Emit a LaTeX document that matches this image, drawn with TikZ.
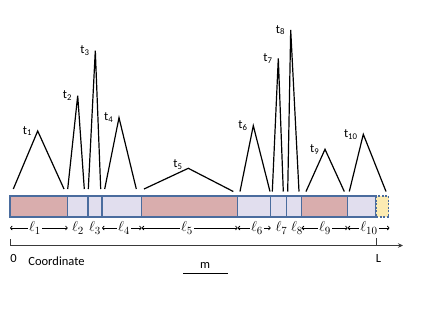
\documentclass[tikz,border=0pt]{standalone}
\usepackage{fontspec}
\setmainfont{Carlito}
\usetikzlibrary{positioning,arrows.meta}
\definecolor{cP}{HTML}{D9ADAD}
\definecolor{cL}{HTML}{E1DEEE}
\definecolor{cY}{HTML}{FCEBB2}
\definecolor{cE}{HTML}{4A6C9E}
\definecolor{cK}{HTML}{3A3A3A}
\begin{document}
\begin{tikzpicture}[x=1pt,y=-1pt,
  font=\fontsize{12.5}{15}\selectfont,
  sg/.style={draw=cE,line width=1.1pt},
  pk/.style={sg,fill=cP},
  lv/.style={sg,fill=cL},
  yl/.style={sg,fill=cY,dash pattern=on 2pt off 1.5pt},
  tri/.style={line width=1.2pt,line join=miter},
  lb/.style={inner sep=1pt},
  ln/.style={inner sep=1pt,font=\fontsize{15}{18}\selectfont},
  ar/.style={-{To[length=2.5pt,width=4.5pt]},line width=.8pt},
  ax/.style={cK,line width=1.3pt}]
\useasboundingbox (0,0) rectangle (436,327);
% the bar
\foreach \xa/\xb/\s in {10/67.7/pk,67.7/88/lv,88/102/lv,102/141.7/lv,141.7/237.7/pk,
  237.7/270.7/lv,270.7/286.3/lv,286.3/301.7/lv,301.7/347.7/pk,347.7/376/lv,376/388.7/yl}
  \draw[\s] (\xa,196) rectangle (\xb,217);
% peaks above the bar
\foreach \i/\xa/\ya/\xp/\yp/\xb/\yb/\dy in {1/13.3/189/37.7/131/64/189/0,
  2/67.7/189/77.7/95.7/84.3/189/0, 3/88.3/189/95.3/50.7/100.7/189/0,
  4/104.7/189/119/117.7/136.3/189/0, 5/144/189/188.3/168.3/233.3/191.5/4,
  6/240/191.5/253.3/125.7/270/191.5/0, 7/272.3/191.5/278.3/58.3/283.3/191.5/0,
  8/287.7/191.5/290.7/30/299/191.5/0, 9/306/191.5/325/149.3/344.3/191.5/0,
  10/349.3/191.5/363.3/134.3/386/191.5/0}{
  \coordinate (p\i) at (\xp,\yp);
  \draw[tri] (\xa,\ya) -- (p\i) -- (\xb,\yb);
  \node[lb,anchor=east] (t\i) at ([xshift=-4.5pt,yshift=\dy pt]p\i) {t\textsubscript{\i}};
}
% lengths under the bar
\foreach \n/\x in {0/10,1/67.7,2/88,3/102,4/141.7,5/237.7,6/270.7,7/286.3,8/301.7,9/347.7,10/376,11/389.5}
  \coordinate (b\n) at (\x,228);
\foreach \i/\x in {1/35,2/78,3/95,4/124,5/187,6/257,7/281.5,8/297,9/325,10/369}
  \node[ln] (l\i) at (\x,228) {$\ell_{\i}$};
\foreach \i/\a/\b in {1/0/1,4/3/4,5/4/5,6/5/6,9/8/9,10/9/11}{
  \draw[ar] (l\i) -- (b\a);
  \draw[ar] (l\i) -- (b\b);
}
% coordinate axis
\coordinate (o) at (10.5,245.5);
\coordinate (e) at (403,245.5);
\coordinate (lt) at (376.7,245.5);
\draw[ax,-{Stealth[length=5pt,width=4.5pt]}] (o) -- (e);
\draw[ax] (o) -- ++(0,-6.5);
\draw[ax] (lt) -- ++(0,-7.5);
\node (zero) at (13.5,258.5) {0};
\node (crd) at (56.5,261.5) {Coordinate};
\node (lL) at (378.5,258.5) {L};
% scale
\node (m) at (205,265.5) {m};
\coordinate (sl) at (183.3,273.3);
\coordinate (sr) at (227.7,273.3);
\draw[line width=1.2pt] (sl) -- (sr);
\end{tikzpicture}
\end{document}
